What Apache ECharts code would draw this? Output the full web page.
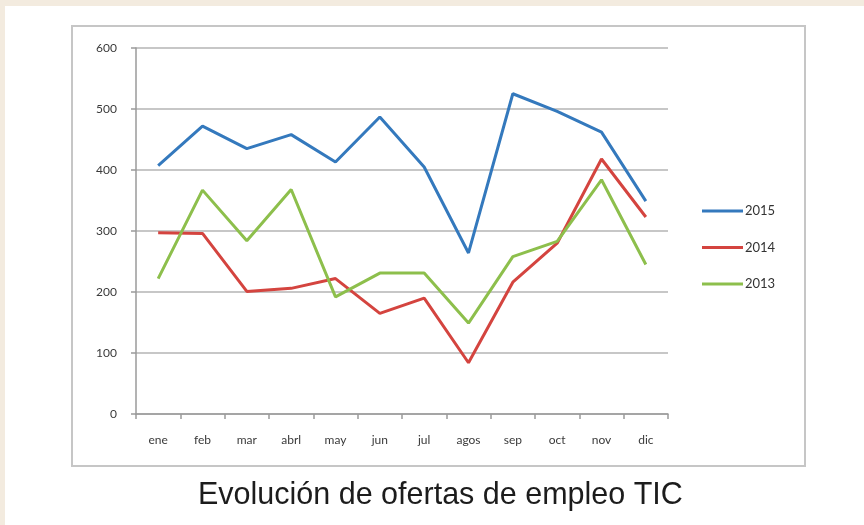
<!DOCTYPE html>
<html>
<head>
<meta charset="utf-8">
<script src="https://cdn.jsdelivr.net/npm/echarts@6/dist/echarts.min.js"></script>
<style>
  html, body { margin: 0; padding: 0; background: #fff; }
  #main { width: 864px; height: 525px; }
</style>
</head>
<body>
<div id="main"></div>
<script>
// months and yearly values
const months = ['ene', 'feb', 'mar', 'abrl', 'may', 'jun', 'jul', 'agos', 'sep', 'oct', 'nov', 'dic'];
const y2015 = [407, 472, 435, 458, 413, 487, 405, 264, 525, 496, 462, 349];
const y2014 = [297, 296, 201, 206, 222, 165, 190, 84, 216, 280, 418, 323];
const y2013 = [222, 367, 284, 368, 192, 231, 231, 149, 258, 283, 384, 245];
const yTicks = [0, 100, 200, 300, 400, 500, 600];

const titleText = 'Evolución de ofertas de empleo TIC';

let myChart = echarts.init(document.getElementById('main'));

function line(name, data, color) {
  return {
    name: name,
    type: 'line',
    data: data,
    symbol: 'none',
    lineStyle: { color: color, width: 3 },
    itemStyle: { color: color }
  };
}

let options = {
  backgroundColor: '#ffffff',
  animation: false,
  title: {
    text: titleText,
    left: 193,
    top: 475,
    textStyle: { fontFamily: 'Liberation Sans', fontSize: 30.5, fontWeight: 'normal', color: '#1c1c1c' }
  },
  graphic: [
    { type: 'rect', shape: { x: 0, y: 0, width: 864, height: 6 }, style: { fill: '#f3ebdf' }, silent: true },
    { type: 'rect', shape: { x: 0, y: 0, width: 5, height: 525 }, style: { fill: '#f3ebdf' }, silent: true },
    { type: 'rect', shape: { x: 72, y: 26, width: 733, height: 440 }, style: { fill: 'none', stroke: '#c6c6c6', lineWidth: 2 }, silent: true }
  ],
  legend: {
    orient: 'vertical',
    left: 697,
    top: 199,
    itemGap: 22.5,
    icon: 'rect',
    itemWidth: 41,
    itemHeight: 3,
    textStyle: { fontFamily: 'Lato', fontSize: 13, color: '#333', lineHeight: 14, padding: [0, 0, 0, -3] },
    data: ['2015', '2014', '2013']
  },
  grid: { left: 136, right: 196, top: 48, bottom: 111 },
  xAxis: {
    type: 'category',
    data: months,
    boundaryGap: true,
    axisLine: { lineStyle: { color: '#9a9a9a', width: 1.5 } },
    axisTick: { show: true, length: 5, lineStyle: { color: '#9a9a9a', width: 1.5 } },
    axisLabel: { margin: 20, fontFamily: 'Lato', fontSize: 12, color: '#3a3a3a', interval: 0 }
  },
  yAxis: {
    type: 'value',
    min: yTicks[0],
    max: yTicks[yTicks.length - 1],
    interval: 100,
    axisLine: { show: true, lineStyle: { color: '#9a9a9a', width: 1.5 } },
    axisTick: { show: true, length: 5, lineStyle: { color: '#9a9a9a', width: 1.5 } },
    axisLabel: { margin: 19, fontFamily: 'Lato', fontSize: 12, color: '#3a3a3a' },
    splitLine: { lineStyle: { color: '#b4b4b4', width: 1.5 } }
  },
  series: [
    line('2015', y2015, '#3479bd'),
    line('2014', y2014, '#d4443f'),
    line('2013', y2013, '#8dbf4c')
  ]
};

// Display the chart
myChart.setOption(options);
</script>
</body>
</html>
